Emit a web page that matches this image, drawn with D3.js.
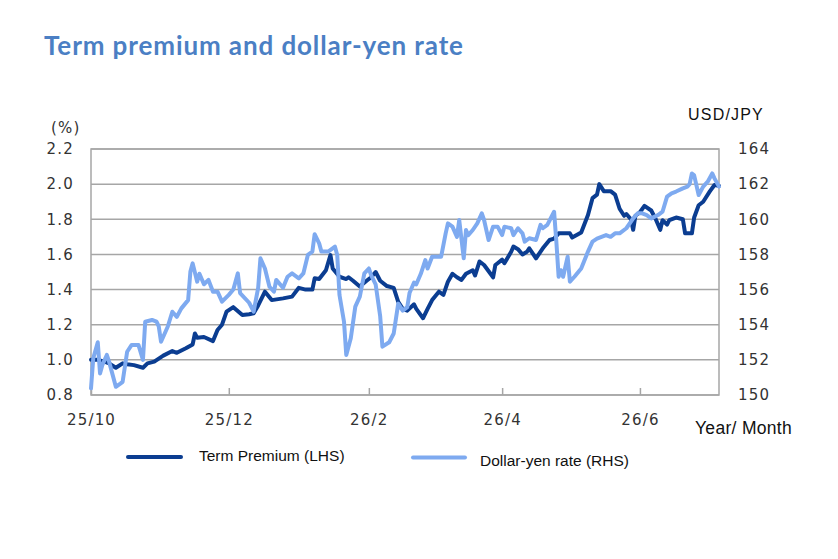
<!DOCTYPE html>
<html>
<head>
<meta charset="utf-8">
<script src="https://cdn.jsdelivr.net/npm/d3@7"></script>
<style>
  body { margin: 0; background: #fff; }
</style>
</head>
<body>
<svg id="chart" width="838" height="559"></svg>
<script>
// Term premium (%, left axis)
const tpDates = [
  "2025-10-01","2025-10-04","2025-10-07","2025-10-09","2025-10-12","2025-10-15","2025-10-17","2025-10-20",
  "2025-10-24","2025-10-26","2025-10-29","2025-11-02","2025-11-06","2025-11-08","2025-11-12","2025-11-15",
  "2025-11-16","2025-11-17","2025-11-20","2025-11-24","2025-11-26","2025-11-28","2025-11-30","2025-12-03",
  "2025-12-07","2025-12-10","2025-12-12","2025-12-14","2025-12-17","2025-12-20","2025-12-25","2025-12-29",
  "2026-01-01","2026-01-04","2026-01-07","2026-01-08","2026-01-10","2026-01-13","2026-01-15","2026-01-16",
  "2026-01-19","2026-01-22","2026-01-23","2026-01-25","2026-01-28","2026-01-31","2026-02-02","2026-02-04",
  "2026-02-06","2026-02-09","2026-02-12","2026-02-14","2026-02-16","2026-02-18","2026-02-21","2026-02-22",
  "2026-02-25","2026-02-27","2026-03-01","2026-03-04","2026-03-06","2026-03-08","2026-03-10","2026-03-12",
  "2026-03-14","2026-03-16","2026-03-19","2026-03-20","2026-03-22","2026-03-24","2026-03-28","2026-03-29",
  "2026-03-30","2026-04-01","2026-04-02","2026-04-05","2026-04-06","2026-04-08","2026-04-10","2026-04-12",
  "2026-04-13","2026-04-16","2026-04-19","2026-04-22","2026-04-24","2026-04-26","2026-05-01","2026-05-02",
  "2026-05-06","2026-05-09","2026-05-11","2026-05-13","2026-05-14","2026-05-16","2026-05-19","2026-05-21",
  "2026-05-23","2026-05-25","2026-05-26","2026-05-28","2026-05-29","2026-05-30","2026-06-01","2026-06-03",
  "2026-06-06","2026-06-08","2026-06-10","2026-06-11","2026-06-13","2026-06-14","2026-06-17","2026-06-20",
  "2026-06-21","2026-06-24","2026-06-25","2026-06-27","2026-06-29","2026-07-02","2026-07-04","2026-07-06"
];
const tpValues = [
  1.00,1.00,0.99,0.98,0.955,0.98,0.975,0.97,
  0.955,0.98,0.99,1.024,1.05,1.04,1.066,1.088,
  1.15,1.126,1.13,1.107,1.17,1.20,1.274,1.30,
  1.255,1.26,1.265,1.31,1.388,1.34,1.35,1.36,
  1.41,1.40,1.40,1.464,1.46,1.51,1.596,1.52,
  1.473,1.46,1.47,1.45,1.417,1.45,1.47,1.50,
  1.45,1.42,1.41,1.33,1.29,1.28,1.316,1.29,
  1.237,1.29,1.34,1.388,1.37,1.445,1.49,1.47,
  1.455,1.49,1.51,1.48,1.56,1.54,1.47,1.54,
  1.55,1.57,1.55,1.615,1.645,1.63,1.60,1.615,
  1.635,1.578,1.635,1.682,1.69,1.72,1.72,1.696,
  1.725,1.824,1.92,1.94,2.00,1.96,1.96,1.94,
  1.86,1.82,1.83,1.80,1.74,1.82,1.84,1.876,
  1.85,1.80,1.74,1.795,1.77,1.795,1.81,1.80,
  1.72,1.72,1.81,1.88,1.90,1.96,1.995,1.99
];

// Dollar-yen rate (yen, right axis)
const fxDates = [
  "2025-10-01","2025-10-02","2025-10-04","2025-10-05","2025-10-06","2025-10-08","2025-10-09","2025-10-12",
  "2025-10-14","2025-10-15","2025-10-17","2025-10-19","2025-10-22","2025-10-24","2025-10-25","2025-10-28",
  "2025-10-30","2025-10-31","2025-11-01","2025-11-04","2025-11-06","2025-11-08","2025-11-10","2025-11-13",
  "2025-11-14","2025-11-15","2025-11-17","2025-11-18","2025-11-20","2025-11-22","2025-11-24","2025-11-26",
  "2025-11-28","2025-12-01","2025-12-03","2025-12-05","2025-12-06","2025-12-10","2025-12-12","2025-12-14",
  "2025-12-15","2025-12-17","2025-12-19","2025-12-21","2025-12-22","2025-12-25","2025-12-27","2025-12-29",
  "2026-01-01","2026-01-03","2026-01-05","2026-01-07","2026-01-08","2026-01-10","2026-01-11","2026-01-14",
  "2026-01-17","2026-01-18","2026-01-19","2026-01-21","2026-01-22","2026-01-24","2026-01-26","2026-01-28",
  "2026-01-30","2026-02-01","2026-02-02","2026-02-04","2026-02-06","2026-02-07","2026-02-10","2026-02-12",
  "2026-02-14","2026-02-16","2026-02-18","2026-02-19","2026-02-21","2026-02-22","2026-02-24","2026-02-26",
  "2026-02-27","2026-03-01","2026-03-05","2026-03-07","2026-03-08","2026-03-10","2026-03-12","2026-03-13",
  "2026-03-15","2026-03-16","2026-03-17","2026-03-19","2026-03-21","2026-03-23","2026-03-24","2026-03-26",
  "2026-03-28","2026-03-30","2026-04-01","2026-04-02","2026-04-05","2026-04-06","2026-04-08","2026-04-10",
  "2026-04-11","2026-04-13","2026-04-16","2026-04-18","2026-04-19","2026-04-21","2026-04-24","2026-04-25",
  "2026-04-26","2026-04-27","2026-04-28","2026-04-30","2026-05-01","2026-05-03","2026-05-06","2026-05-09",
  "2026-05-11","2026-05-13","2026-05-17","2026-05-19","2026-05-21","2026-05-23","2026-05-26","2026-05-29",
  "2026-05-31","2026-06-02","2026-06-04","2026-06-06","2026-06-09","2026-06-11","2026-06-13","2026-06-15",
  "2026-06-17","2026-06-20","2026-06-22","2026-06-23","2026-06-24","2026-06-25","2026-06-27","2026-06-29",
  "2026-07-01","2026-07-03","2026-07-04","2026-07-06"
];
const fxValues = [
  150.38,152.09,153.0,151.23,151.7,152.28,151.9,150.47,
  150.65,150.75,152.46,152.85,152.85,152.0,154.17,154.27,
  154.17,153.9,153.03,153.9,154.74,154.45,154.93,155.4,
  157.02,157.49,156.45,156.9,156.3,156.55,155.88,155.88,
  155.31,155.7,156.0,156.92,155.8,155.25,154.74,156.1,
  157.78,157.2,156.16,155.88,156.55,156.1,156.73,156.92,
  156.64,156.92,157.97,158.16,159.15,158.63,158.16,158.16,
  158.44,157.97,155.69,154.17,152.28,153.23,155.03,155.6,
  156.92,157.2,156.82,156.3,154.5,152.75,153.0,153.5,
  155.2,154.8,155.0,155.8,156.4,156.3,156.9,157.68,
  157.2,157.87,157.87,159.2,159.77,159.58,159.0,159.96,
  157.78,159.39,159.1,159.39,159.77,160.34,159.96,158.82,
  159.58,159.58,159.1,159.58,159.49,159.1,159.49,159.2,
  158.73,158.92,158.82,159.68,159.49,159.68,160.43,158.73,
  156.73,157.1,156.73,157.87,156.45,156.73,157.2,158.16,
  158.73,158.9,159.1,159.0,159.2,159.2,159.49,160.05,
  160.34,160.34,160.24,160.05,160.24,160.43,161.29,161.48,
  161.58,161.76,161.86,162.0,162.61,162.5,161.38,161.86,
  162.14,162.61,162.33,161.86
];

const leftTicks = [0.8, 1.0, 1.2, 1.4, 1.6, 1.8, 2.0, 2.2];
const rightTicks = [150, 152, 154, 156, 158, 160, 162, 164];
const monthTicks = ["2025-10-01", "2025-12-01", "2026-02-01", "2026-04-01", "2026-06-01"];
const monthLabels = ["25/10", "25/12", "26/2", "26/4", "26/6"];
const seriesNames = ["Term Premium (LHS)", "Dollar-yen rate (RHS)"];

const darkBlue = "#0b3d91";
const lightBlue = "#7eaaf0";
const gridGrey = "#a6a6a6";
const tickFont = "'DejaVu Sans', Verdana, sans-serif";
const labelFont = "'Liberation Sans', Arial, sans-serif";

const parse = d3.timeParse("%Y-%m-%d");
const svg = d3.select("#chart");

const plot = { left: 91, right: 719, top: 149, bottom: 395 };

const x = d3.scaleTime()
  .domain([parse("2025-10-01"), parse("2026-07-06")])
  .range([plot.left, plot.right]);
const yL = d3.scaleLinear().domain([0.8, 2.2]).range([plot.bottom, plot.top]);
const yR = d3.scaleLinear().domain([150, 164]).range([plot.bottom, plot.top]);

// title
svg.append("text")
  .attr("x", 44).attr("y", 55)
  .attr("fill", "#4b7fc4")
  .attr("textLength", 419)
  .attr("lengthAdjust", "spacing")
  .style("font-family", "Lato, 'Open Sans', sans-serif")
  .style("font-weight", "bold")
  .style("font-size", "26px")
  .text("Term premium and dollar-yen rate");

// horizontal gridlines
svg.append("g").selectAll("line")
  .data(leftTicks)
  .join("line")
  .attr("x1", plot.left).attr("x2", plot.right)
  .attr("y1", d => yL(d)).attr("y2", d => yL(d))
  .attr("stroke", gridGrey)
  .attr("stroke-width", 1.5);

// frame
svg.append("rect")
  .attr("x", plot.left).attr("y", plot.top)
  .attr("width", plot.right - plot.left).attr("height", plot.bottom - plot.top)
  .attr("fill", "none")
  .attr("stroke", gridGrey)
  .attr("stroke-width", 1.5);

// axes
function styleAxis(g) {
  g.select(".domain").remove();
  g.selectAll("text")
    .attr("fill", "#333")
    .style("font-family", tickFont)
    .style("font-size", "15px")
    .style("letter-spacing", "1.2px");
}

svg.append("g")
  .attr("transform", `translate(${plot.left},0)`)
  .call(d3.axisLeft(yL).tickValues(leftTicks).tickFormat(d3.format(".1f")).tickSize(0).tickPadding(17))
  .call(styleAxis);

svg.append("g")
  .attr("transform", `translate(${plot.right},0)`)
  .call(d3.axisRight(yR).tickValues(rightTicks).tickFormat(d3.format("d")).tickSize(0).tickPadding(19))
  .call(styleAxis);

const xAxis = svg.append("g")
  .attr("transform", `translate(0,${plot.bottom})`)
  .call(d3.axisBottom(x)
    .tickValues(monthTicks.map(parse))
    .tickFormat((d, i) => monthLabels[i])
    .tickSizeInner(-7).tickSizeOuter(0).tickPadding(19))
  .call(styleAxis);
xAxis.selectAll(".tick line").attr("stroke", gridGrey).attr("stroke-width", 1.5);

// unit labels
svg.append("text")
  .attr("x", 51).attr("y", 133)
  .attr("fill", "#333")
  .style("font-family", tickFont).style("font-size", "15px").style("letter-spacing", "1.2px")
  .text("(%)");

svg.append("text")
  .attr("x", 688).attr("y", 120)
  .attr("fill", "#111")
  .style("font-family", labelFont).style("font-size", "16px").style("letter-spacing", "1.2px")
  .text("USD/JPY");

svg.append("text")
  .attr("x", 695).attr("y", 434)
  .attr("fill", "#111")
  .style("font-family", labelFont).style("font-size", "17.5px").style("letter-spacing", "0.3px")
  .text("Year/ Month");

// lines
const tpData = tpDates.map((d, i) => ({ date: parse(d), value: tpValues[i] }));
const fxData = fxDates.map((d, i) => ({ date: parse(d), value: fxValues[i] }));

const tpLine = d3.line().x(d => x(d.date)).y(d => yL(d.value));
const fxLine = d3.line().x(d => x(d.date)).y(d => yR(d.value));

svg.append("path")
  .datum(tpData)
  .attr("fill", "none")
  .attr("stroke", darkBlue)
  .attr("stroke-width", 4)
  .attr("stroke-linejoin", "round")
  .attr("stroke-linecap", "round")
  .attr("d", tpLine);

svg.append("path")
  .datum(fxData)
  .attr("fill", "none")
  .attr("stroke", lightBlue)
  .attr("stroke-width", 4)
  .attr("stroke-linejoin", "round")
  .attr("stroke-linecap", "round")
  .attr("d", fxLine);

// legend
const legend = [
  { name: seriesNames[0], color: darkBlue, x1: 128, x2: 181, ly: 457, tx: 199, ty: 461 },
  { name: seriesNames[1], color: lightBlue, x1: 413, x2: 465, ly: 457.5, tx: 480, ty: 466 }
];
const lg = svg.append("g").selectAll("g").data(legend).join("g");
lg.append("line")
  .attr("x1", d => d.x1).attr("x2", d => d.x2)
  .attr("y1", d => d.ly).attr("y2", d => d.ly)
  .attr("stroke", d => d.color)
  .attr("stroke-width", 4)
  .attr("stroke-linecap", "round");
lg.append("text")
  .attr("x", d => d.tx).attr("y", d => d.ty)
  .attr("fill", "#111")
  .style("font-family", labelFont)
  .style("font-size", "15.5px")
  .text(d => d.name);
</script>
</body>
</html>
